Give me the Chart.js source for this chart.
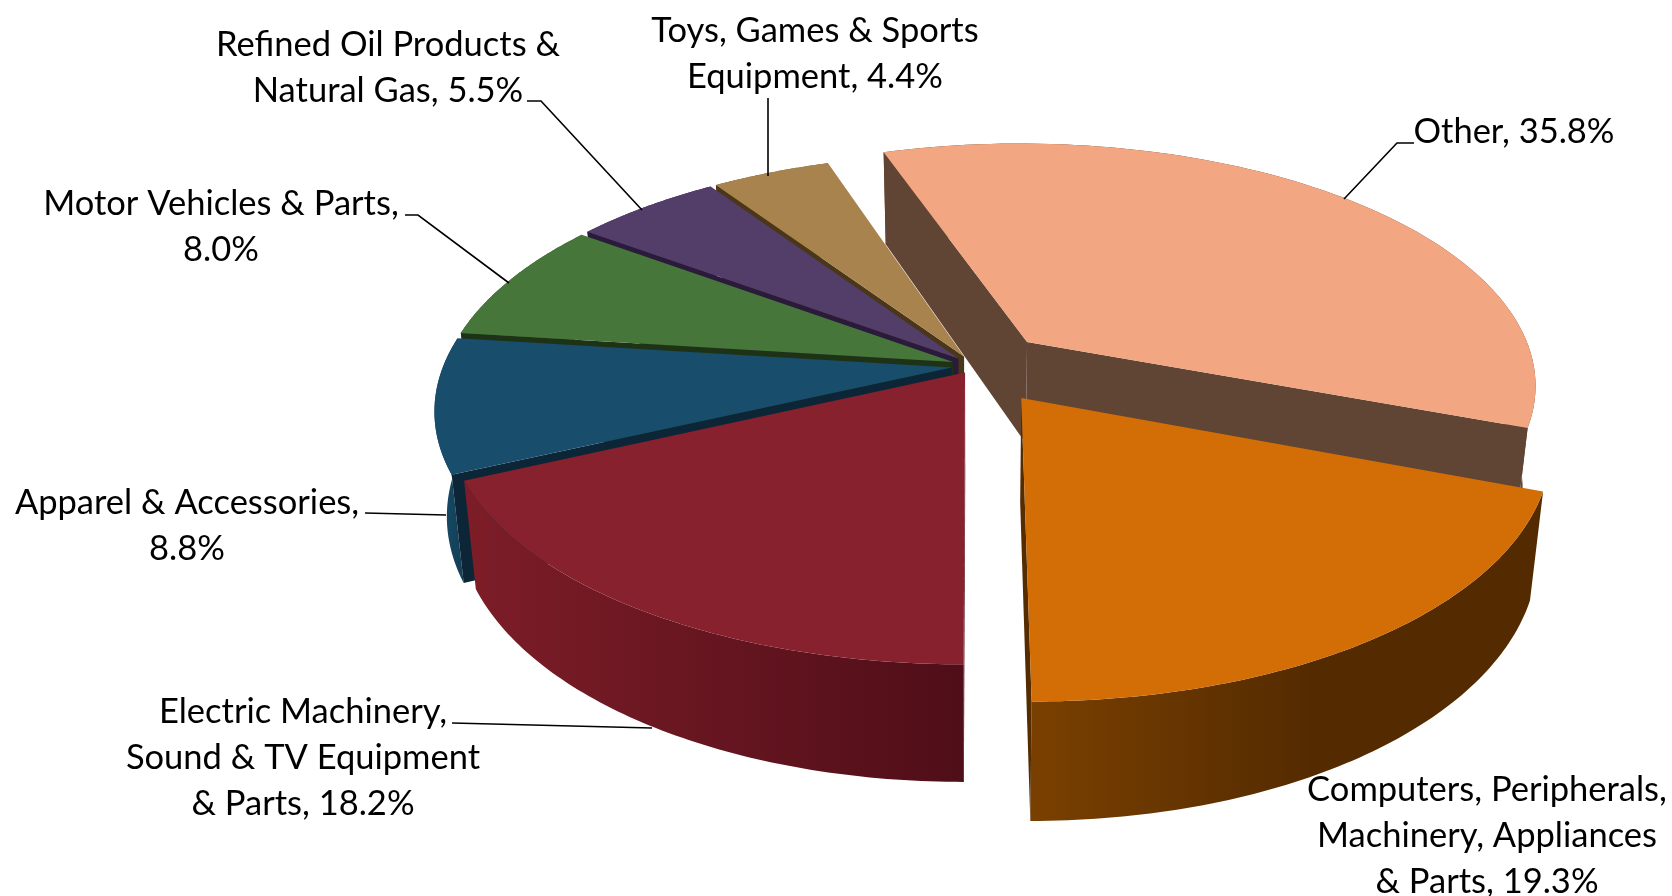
<!DOCTYPE html>
<html>
<head>
<meta charset="utf-8">
<style>
  html, body { margin: 0; padding: 0; background: #fff; }
  canvas { display: block; }
</style>
<script src="https://cdn.jsdelivr.net/npm/chart.js@4/dist/chart.umd.min.js"></script>
</head>
<body>
<canvas id="chart" width="1672" height="896"></canvas>
<script>
'use strict';

const categories = ['Other', 'Computers, Peripherals, Machinery, Appliances & Parts', 'Electric Machinery, Sound & TV Equipment & Parts', 'Apparel & Accessories', 'Motor Vehicles & Parts', 'Refined Oil Products & Natural Gas', 'Toys, Games & Sports Equipment'];
const shares = [35.8, 19.3, 18.2, 8.8, 8.0, 5.5, 4.4];

const topColors = ['#f2a682', '#d26e05', '#88212e', '#184e6c', '#467639', '#533d69', '#a8834d'];
const edgeColors = ['#604434', '#552c00', '#5a111c', '#0c2637', '#1e3316', '#2a1a3b', '#4a3619'];
const rimFrom = ['#604434', '#7a4000', '#7d1d28', '#184e6c', '#34582a', '#3e2d4e', '#7d6139'];
const rimTo = ['#604434', '#542b00', '#4f0e18', '#123b52', '#34582a', '#3e2d4e', '#7d6139'];
const rimStop = [1, 0.55, 1, 1, 1, 1, 1];
const explode = [50, 54, 11, 15, 15, 15, 15];
const paintOrder = [0, 6, 5, 4, 3, 2, 1];

// label lines, centre x and first baseline are per slice, leaders are [x, y] runs
const labelLines = [
  ['Other, 35.8%'],
  ['Computers, Peripherals,', 'Machinery, Appliances', '& Parts, 19.3%'],
  ['Electric Machinery,', 'Sound & TV Equipment', '& Parts, 18.2%'],
  ['Apparel & Accessories,', '8.8%'],
  ['Motor Vehicles & Parts,', '8.0%'],
  ['Refined Oil Products &', 'Natural Gas, 5.5%'],
  ['Toys, Games & Sports', 'Equipment, 4.4%']
];
const labelX = [1514, 1487, 303, 187, 221, 388, 815];
const labelY = [143, 801, 723, 514, 215, 56, 42];
const leaders = [
  [[1414, 143], [1397, 143], [1344, 199]],
  [],
  [[452, 723], [652, 728]],
  [[365, 513], [446, 515]],
  [[405, 215], [418, 215], [509, 283]],
  [[527, 101], [541, 101], [642, 210]],
  [[768, 98], [768, 176]]
];

const LINE_H = 46;
const view = { rx: 1.5, ry: 0.707, persp: 0.17, depth: 0.303, shrink: 0.977 };

const pie3d = {
  id: 'pie3d',
  beforeDatasetsDraw(chart) {
    const ctx = chart.ctx;
    const arcs = chart.getDatasetMeta(0).data;
    const r = arcs[0].outerRadius, cx = arcs[0].x, cy = arcs[0].y;

    const project = (wx, wy, low) => {
      const f = 1 / (1 - view.persp * wy);
      const s = low ? view.shrink : 1;
      return [
        cx + wx * r * view.rx * f * s,
        cy + wy * r * view.ry * f * s + (low ? view.depth * r * f : 0)
      ];
    };

    const fillPath = (pts, color) => {
      ctx.beginPath();
      pts.forEach((p, i) => (i ? ctx.lineTo(p[0], p[1]) : ctx.moveTo(p[0], p[1])));
      ctx.closePath();
      ctx.fillStyle = color;
      ctx.fill();
    };

    const area = pts => pts.reduce((sum, p, i) => {
      const q = pts[(i + 1) % pts.length];
      return sum + p[0] * q[1] - q[0] * p[1];
    }, 0);

    paintOrder.forEach(i => {
      const arc = arcs[i];
      const mid = (arc.startAngle + arc.endAngle) / 2;
      const e = explode[i] / r;
      const ax = e * Math.cos(mid), ay = e * Math.sin(mid);
      const top = [], low = [];
      for (let s = 0; s <= 80; s++) {
        const a = arc.startAngle + (arc.endAngle - arc.startAngle) * s / 80;
        top.push(project(ax + Math.cos(a), ay + Math.sin(a), false));
        low.push(project(ax + Math.cos(a), ay + Math.sin(a), true));
      }
      const apexTop = project(ax, ay, false), apexLow = project(ax, ay, true);

      // outer wall, only the part that faces the viewer shows past the top
      const xs = top.concat(low).map(p => p[0]);
      const grad = ctx.createLinearGradient(Math.min(...xs), 0, Math.max(...xs), 0);
      grad.addColorStop(0, rimFrom[i]);
      grad.addColorStop(rimStop[i], rimTo[i]);
      grad.addColorStop(1, rimTo[i]);
      fillPath(top.concat(low.slice().reverse()), grad);

      // radial walls, skip the ones turned away from the viewer
      const startWall = [apexTop, top[0], low[0], apexLow];
      const endWall = [apexTop, top[80], low[80], apexLow];
      if (area(startWall) < 0) fillPath(startWall, edgeColors[i]);
      if (area(endWall) > 0) fillPath(endWall, edgeColors[i]);

      fillPath([apexTop].concat(top), arc.options.backgroundColor);
    });
    return false;
  },
  afterDraw(chart) {
    const ctx = chart.ctx;
    ctx.strokeStyle = '#000';
    ctx.lineWidth = 1.6;
    leaders.forEach(run => {
      if (!run.length) return;
      ctx.beginPath();
      run.forEach((p, i) => (i ? ctx.lineTo(p[0], p[1]) : ctx.moveTo(p[0], p[1])));
      ctx.stroke();
    });
    ctx.fillStyle = '#000';
    ctx.font = '34.5px Lato, "Open Sans", sans-serif';
    ctx.textAlign = 'center';
    ctx.textBaseline = 'alphabetic';
    labelLines.forEach((lines, i) => {
      lines.forEach((line, j) => ctx.fillText(line, labelX[i], labelY[i] + j * LINE_H));
    });
  }
};

new Chart(document.getElementById('chart'), {
  type: 'pie',
  data: {
    labels: categories,
    datasets: [{ data: shares, backgroundColor: topColors, borderWidth: 0, offset: explode }]
  },
  options: {
    responsive: false,
    animation: false,
    rotation: -18.4,
    layout: { padding: { left: 276, bottom: 164 } },
    plugins: { legend: { display: false }, tooltip: { enabled: false } }
  },
  plugins: [pie3d]
});
</script>
</body>
</html>
